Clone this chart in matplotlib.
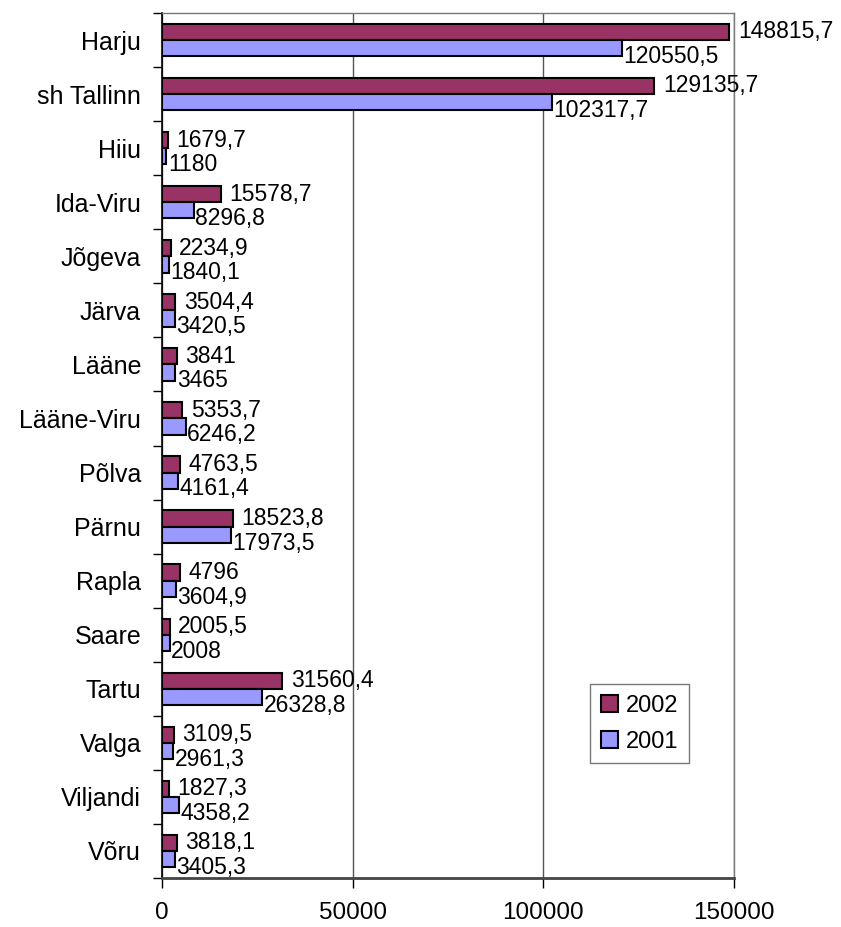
import matplotlib
matplotlib.use("Agg")
import matplotlib.pyplot as plt
import numpy as np

plt.rcParams['font.family'] = ['Liberation Sans', 'DejaVu Sans']

regions = ['Harju', 'sh Tallinn', 'Hiiu', 'Ida-Viru', 'Jõgeva', 'Järva', 'Lääne',
           'Lääne-Viru', 'Põlva', 'Pärnu', 'Rapla', 'Saare', 'Tartu', 'Valga',
           'Viljandi', 'Võru']
val_2002 = [148815.7, 129135.7, 1679.7, 15578.7, 2234.9, 3504.4, 3841, 5353.7,
            4763.5, 18523.8, 4796, 2005.5, 31560.4, 3109.5, 1827.3, 3818.1]
val_2001 = [120550.5, 102317.7, 1180, 8296.8, 1840.1, 3420.5, 3465, 6246.2,
            4161.4, 17973.5, 3604.9, 2008, 26328.8, 2961.3, 4358.2, 3405.3]
xticks = [0, 50000, 100000, 150000]


def fmt(v):
    return f"{v:.1f}".rstrip('0').rstrip('.').replace('.', ',')


fig = plt.figure(figsize=(8.41, 9.27), dpi=100)
ax = fig.add_axes([162 / 841, 1 - 878 / 927, (734 - 162) / 841, (878 - 13) / 927])

y = np.arange(len(regions))
h = 0.3
b2 = ax.barh(y - h / 2, val_2002, height=h, color='#993366', edgecolor='black',
             linewidth=1.5, label='2002', zorder=3)
b1 = ax.barh(y + h / 2, val_2001, height=h, color='#9999FF', edgecolor='black',
             linewidth=1.5, label='2001', zorder=3)

for i, v in enumerate(val_2002):
    ax.annotate(fmt(v), (v, y[i] - h / 2), xytext=(6, 0), textcoords='offset points',
                va='center', ha='left', fontsize=16.5, zorder=4)
for i, v in enumerate(val_2001):
    ax.annotate(fmt(v), (v, y[i] + h / 2), xytext=(1, -6), textcoords='offset points',
                va='center', ha='left', fontsize=16.5, zorder=4)

ax.set_xlim(0, 150000)
ax.set_ylim(len(regions) - 0.5, -0.5)
ax.set_xticks(xticks)
ax.set_xticklabels([str(t) for t in xticks], fontsize=17.5)
ax.set_yticks(y)
ax.set_yticklabels(regions, fontsize=18)
ax.set_yticks(np.arange(len(regions) + 1) - 0.5, minor=True)
ax.tick_params(axis='y', which='major', length=0, pad=15)
ax.tick_params(axis='y', which='minor', length=6.5, width=1, color='black')
ax.tick_params(axis='x', which='major', length=7, width=1, pad=10)

ax.grid(axis='x', color='#555555', linewidth=1, zorder=0)
ax.set_axisbelow(True)
for s in ['top', 'right']:
    ax.spines[s].set_color('#777777')
    ax.spines[s].set_linewidth(1)
ax.spines['left'].set_color('black')
ax.spines['left'].set_linewidth(1.2)
ax.spines['bottom'].set_color('#444444')
ax.spines['bottom'].set_linewidth(2)

leg = ax.legend(handles=[b2, b1], loc='upper left', bbox_to_anchor=(590 / 841, 1 - 684 / 927),
                bbox_transform=fig.transFigure, fontsize=17, frameon=True, fancybox=False,
                handlelength=0.75, handleheight=0.75, handletextpad=0.3, labelspacing=0.6,
                borderpad=0.45, borderaxespad=0, edgecolor='#555555')
leg.get_frame().set_linewidth(1)

fig.savefig('out.png', dpi=100)
